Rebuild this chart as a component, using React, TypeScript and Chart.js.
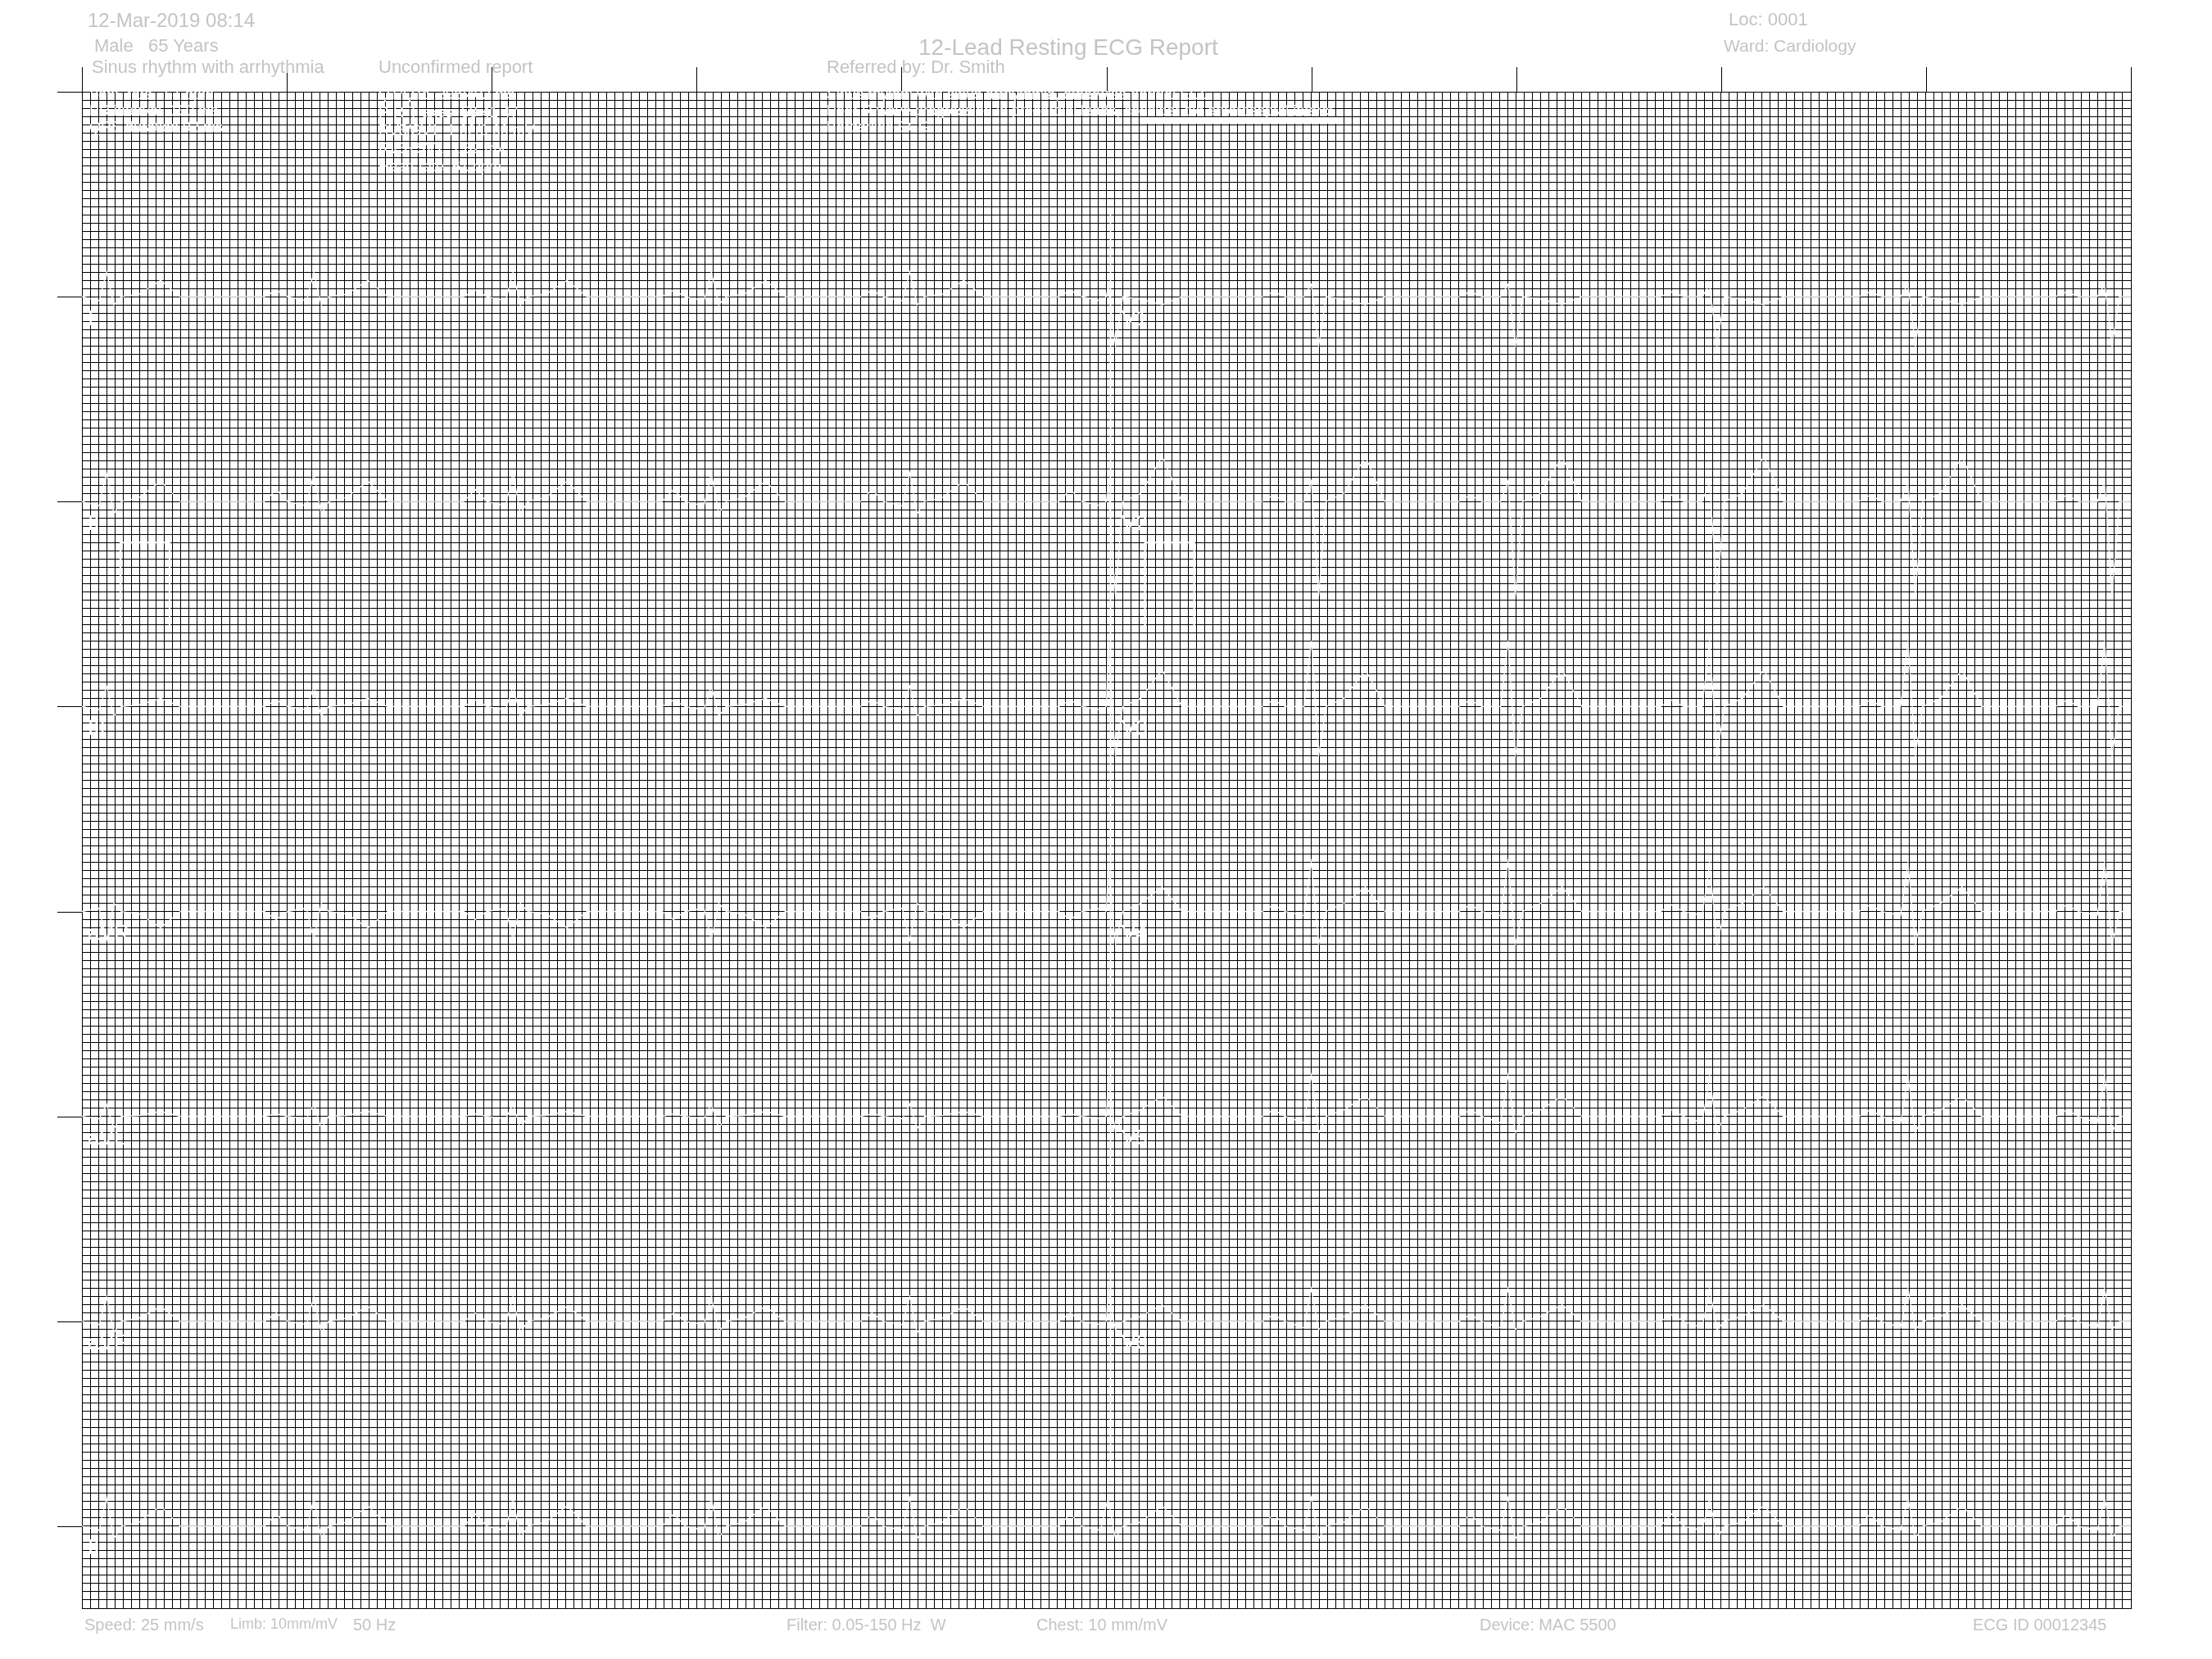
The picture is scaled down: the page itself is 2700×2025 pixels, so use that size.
import React, { useEffect, useRef } from "react";
import { Chart, registerables } from "chart.js";
Chart.register(...registerables);

// Paper geometry in millimetres (1 mm = one small box)
const X_MAX = 250;
const Y_MAX = 185;
const MAJOR_X = [0, 25, 50, 75, 100, 125, 150, 175, 200, 225, 250];
const ROW_BASELINES = [160, 135, 110, 85, 60, 35, 10];
const LEFT_TICKS_Y = [185, 160, 135, 110, 85, 60, 35, 10];

// Beat (R-peak) positions in mm, read from the strip
const BEAT_R = [3.0, 28.3, 52.6, 76.8, 101.0, 125.2, 150.0, 174.0, 198.6, 222.8, 246.8];

// Beat keypoints (offset from R, mm) shared by every lead
const BEAT_DT = [-6.0, -4.6, -3.2, -0.9, 0.0, 0.9, 1.8, 4.0, 6.6, 9.0];

// Amplitudes (mm) at each keypoint for every lead
const AMP_I = [0, 0.8, 0, -0.5, 3.0, -1.0, 0, 0.3, 2.0, 0];
const AMP_II = [0, 1.5, 0, -0.5, 3.5, -1.5, 0, 0.5, 2.5, 0];
const AMP_III = [0, 0.8, 0, -0.4, 2.5, -1.2, 0, 0.2, 1.0, 0];
const AMP_AVR = [0, -1.0, 0, 0.4, -3.5, 1.0, 0, -0.3, -2.0, 0];
const AMP_AVL = [0, 0.3, 0, -0.3, 1.5, -1.5, 0, 0.1, 0.6, 0];
const AMP_AVF = [0, 1.0, 0, -0.4, 3.0, -1.4, 0, 0.4, 1.8, 0];
const AMP_V1 = [0, 0.6, 0, 0, 1.5, -6.0, 0, -0.3, -1.0, 0];
const AMP_V2 = [0, 0.8, 0, 0, 2.5, -11.5, 0, 1.0, 5.5, 0];
const AMP_V3 = [0, 0.8, 0, 0, 8.0, -6.0, 0, 1.0, 4.5, 0];
const AMP_V4 = [0, 0.8, 0, -0.5, 6.0, -4.0, 0, 1.0, 3.0, 0];
const AMP_V5 = [0, 0.8, 0, -0.8, 5.0, -2.0, 0, 0.8, 2.5, 0];
const AMP_V6 = [0, 0.8, 0, -0.8, 4.0, -1.0, 0, 0.6, 2.0, 0];

const LEFT_LEADS = ["I", "II", "III", "aVR", "aVL", "aVF"];
const RIGHT_LEADS = ["V1", "V2", "V3", "V4", "V5", "V6"];
const LEFT_AMPS = [AMP_I, AMP_II, AMP_III, AMP_AVR, AMP_AVL, AMP_AVF];
const RIGHT_AMPS = [AMP_V1, AMP_V2, AMP_V3, AMP_V4, AMP_V5, AMP_V6];
const RHYTHM_LEAD = "II";

// Calibration pulse keypoints (x mm, y mm relative to its base)
const CAL_X = [4.7, 4.7, 10.7, 10.7];
const CAL_Y = [0, 10.5, 10.5, 0];
const CAL_BASE = 119.5;

// Column separator (x mm, y mm range)
const SEP_X = 125.5;
const SEP_Y = [170, 18];

const HEADER_TEXT = [
  { t: "12-Mar-2019 08:14", x: 107, y: 13, s: 24 },
  { t: "Male   65 Years", x: 115, y: 45, s: 22 },
  { t: "Sinus rhythm with arrhythmia", x: 112, y: 71, s: 22 },
  { t: "Unconfirmed report", x: 462, y: 71, s: 22 },
  { t: "12-Lead Resting ECG Report", x: 1121, y: 44, s: 28 },
  { t: "Referred by: Dr. Smith", x: 1009, y: 71, s: 22 },
  { t: "Loc: 0001", x: 2110, y: 13, s: 22 },
  { t: "Ward: Cardiology", x: 2104, y: 45, s: 21 },
];
const GRID_TEXT = [
  { t: "Vent. rate   61 bpm", x: 109, y: 106, s: 18 },
  { t: "PR interval  160 ms", x: 109, y: 126, s: 18 },
  { t: "QRS duration 92 ms", x: 109, y: 146, s: 18 },
  { t: "QT/QTc  398/402 ms", x: 462, y: 106, s: 18 },
  { t: "P-R-T axes  58 41 47", x: 462, y: 128, s: 18 },
  { t: "RV5/SV1  1.02/0.60 mV", x: 462, y: 150, s: 18 },
  { t: "RV5+SV1  1.62 mV", x: 462, y: 172, s: 18 },
  { t: "Heart rate  61 bpm", x: 462, y: 194, s: 18 },
  { t: "Sinus rhythm with sinus arrhythmia, otherwise normal ECG", x: 1009, y: 106, s: 18 },
  { t: "Poor R wave progression in precordial leads, consider old anteroseptal infarct", x: 1009, y: 126, s: 18 },
  { t: "Borderline ECG", x: 1009, y: 146, s: 18 },
];
const FOOTER_TEXT = [
  { t: "Speed: 25 mm/s", x: 103, y: 1973, s: 20 },
  { t: "Limb: 10mm/mV", x: 281, y: 1973, s: 18 },
  { t: "50 Hz", x: 431, y: 1973, s: 20 },
  { t: "Filter: 0.05-150 Hz  W", x: 960, y: 1973, s: 20 },
  { t: "Chest: 10 mm/mV", x: 1265, y: 1973, s: 20 },
  { t: "Device: MAC 5500", x: 1806, y: 1973, s: 20 },
  { t: "ECG ID 00012345", x: 2408, y: 1973, s: 20 },
];

function leadPoints(amps: number[], base: number, x0: number, x1: number) {
  const out: { x: number; y: number }[] = [{ x: x0, y: base }];
  for (const r of BEAT_R) {
    for (let i = 0; i < BEAT_DT.length; i++) {
      const x = r + BEAT_DT[i];
      if (x > x0 && x < x1) out.push({ x, y: base + amps[i] });
    }
  }
  out.push({ x: x1, y: base });
  return out;
}

const FONT = "'Liberation Sans', Arial, sans-serif";

const tickPlugin = {
  id: "ecgTicks",
  afterDraw(chart: any) {
    const { ctx, chartArea, scales } = chart;
    const xs = scales.x;
    const ys = scales.y;
    ctx.save();
    ctx.strokeStyle = "#000";
    ctx.lineWidth = 1;
    ctx.beginPath();
    for (const v of MAJOR_X) {
      const px = Math.round(xs.getPixelForValue(v)) + 0.5;
      ctx.moveTo(px, chartArea.top - 30);
      ctx.lineTo(px, chartArea.top);
    }
    for (const v of LEFT_TICKS_Y) {
      const py = Math.round(ys.getPixelForValue(v)) + 0.5;
      ctx.moveTo(chartArea.left - 30, py);
      ctx.lineTo(chartArea.left, py);
    }
    ctx.stroke();
    ctx.restore();
  },
};

export default function App() {
  const ref = useRef<HTMLCanvasElement | null>(null);
  useEffect(() => {
    if (!ref.current) return;
    const datasets: any[] = [];
    const line = (data: any[], w = 1.2) => ({
      data,
      borderColor: "#ffffff",
      borderWidth: w,
      pointRadius: 0,
      tension: 0,
      fill: false,
    });
    LEFT_AMPS.forEach((a, i) => datasets.push(line(leadPoints(a, ROW_BASELINES[i], 0, 125))));
    RIGHT_AMPS.forEach((a, i) => datasets.push(line(leadPoints(a, ROW_BASELINES[i], 125, 250))));
    datasets.push(line(leadPoints(AMP_II, ROW_BASELINES[6], 0, 250)));
    datasets.push(line(CAL_X.map((x, i) => ({ x, y: CAL_BASE + CAL_Y[i] })), 2));
    datasets.push(line(CAL_X.map((x, i) => ({ x: x + 125, y: CAL_BASE + CAL_Y[i] })), 2));
    datasets.push(line(SEP_Y.map((y) => ({ x: SEP_X, y })), 1.5));

    const chart = new Chart(ref.current, {
      type: "line",
      data: { datasets },
      plugins: [tickPlugin],
      options: {
        animation: false,
        responsive: false,
        devicePixelRatio: 1,
        parsing: false,
        normalized: true,
        layout: { padding: { left: 100, right: 99, top: 112, bottom: 62 } },
        plugins: { legend: { display: false }, tooltip: { enabled: false } },
        scales: {
          x: {
            type: "linear",
            min: 0,
            max: X_MAX,
            ticks: { display: false, stepSize: 1 },
            grid: { color: "#000", lineWidth: 1, drawTicks: false },
            border: { display: true, color: "#000", width: 1 },
          },
          y: {
            type: "linear",
            min: 0,
            max: Y_MAX,
            ticks: { display: false, stepSize: 1 },
            grid: { color: "#000", lineWidth: 1, drawTicks: false },
            border: { display: true, color: "#000", width: 1 },
          },
        },
      } as any,
    });
    return () => chart.destroy();
  }, []);

  const labelStyle = (x: number, y: number, s: number, color: string): React.CSSProperties => ({
    position: "absolute",
    left: x,
    top: y,
    fontSize: s,
    fontFamily: FONT,
    color,
    whiteSpace: "pre",
    lineHeight: 1,
  });

  return (
    <div style={{ position: "absolute", left: 0, top: 0, width: 2700, height: 2025, background: "#fff", overflow: "hidden" }}>
      <canvas ref={ref} width={2700} height={2025} style={{ position: "absolute", left: 0, top: 0, width: 2700, height: 2025 }} />
      {HEADER_TEXT.map((h, i) => (
        <div key={"h" + i} style={labelStyle(h.x, h.y, h.s, "#c4c4c4")}>{h.t}</div>
      ))}
      {GRID_TEXT.map((h, i) => (
        <div key={"g" + i} style={labelStyle(h.x, h.y, h.s, "#ffffff")}>{h.t}</div>
      ))}
      <div style={{ position: "absolute", left: 1394, top: 143, width: 246, height: 8, background: "#ffffff" }} />
      {FOOTER_TEXT.map((h, i) => (
        <div key={"f" + i} style={labelStyle(h.x, h.y, h.s, "#c4c4c4")}>{h.t}</div>
      ))}
      {LEFT_LEADS.map((l, i) => (
        <div key={"l" + i} style={labelStyle(107, 375 + i * 250, 26, "#ffffff")}>{l}</div>
      ))}
      {RIGHT_LEADS.map((l, i) => (
        <div key={"r" + i} style={labelStyle(1369, 375 + i * 250, 26, "#ffffff")}>{l}</div>
      ))}
      <div style={labelStyle(107, 1875, 26, "#ffffff")}>{RHYTHM_LEAD}</div>
    </div>
  );
}
